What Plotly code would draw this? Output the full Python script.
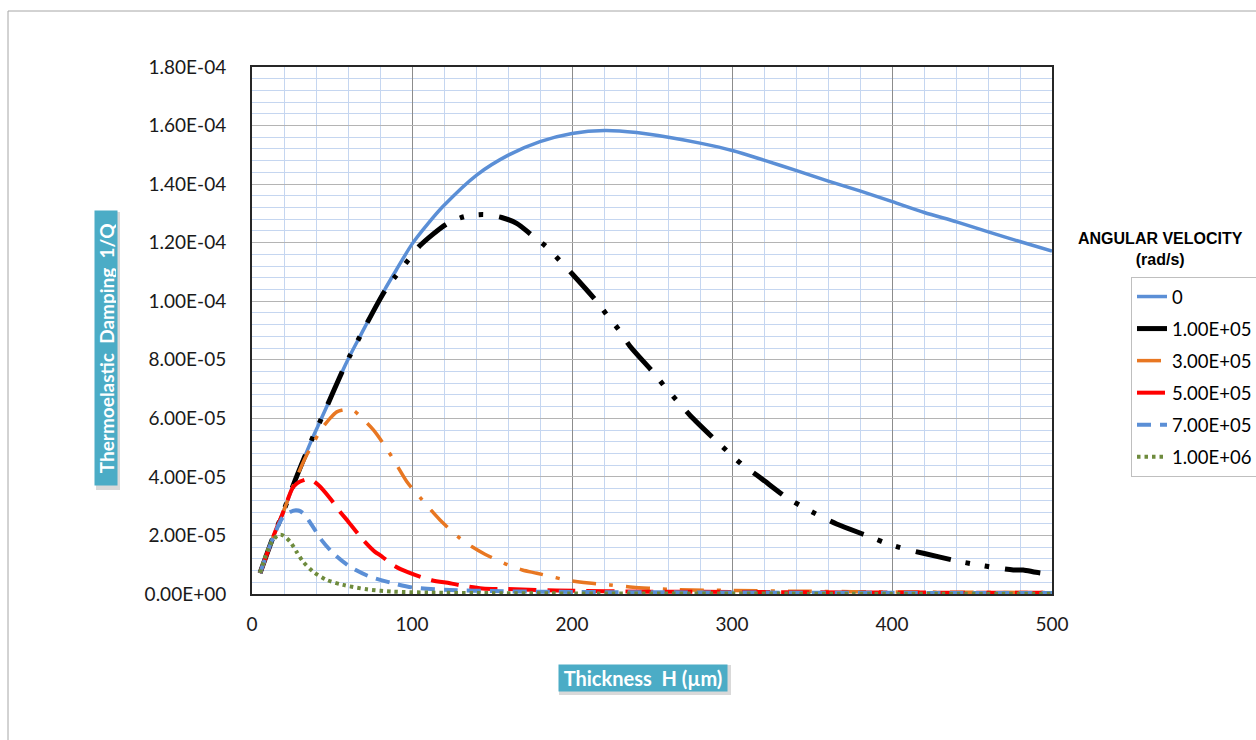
import plotly.graph_objects as go

# Thickness H (µm) and thermoelastic damping 1/Q for each angular velocity (rad/s)
h_w0 = [5, 13.3, 19.6, 25.8, 33, 38, 43, 48.75, 56, 61, 67.5, 83, 90, 100, 110, 119.6,
        140.4, 160.2, 180, 200, 220.6, 240.4, 260.2, 280, 300.8, 320.4, 340.4, 360.2,
        380.4, 400.2, 420.2, 440.4, 460.2, 480.4, 500]
q_w0 = [7.1e-6, 1.96e-5, 2.81e-5, 3.72e-5, 4.70e-5, 5.35e-5, 5.95e-5, 6.65e-5, 7.55e-5,
        8.12e-5, 8.80e-5, 1.04e-4, 1.105e-4, 1.195e-4, 1.265e-4, 1.325e-4, 1.431e-4,
        1.499e-4, 1.545e-4, 1.573e-4, 1.583e-4, 1.576e-4, 1.560e-4, 1.540e-4, 1.514e-4,
        1.481e-4, 1.446e-4, 1.410e-4, 1.376e-4, 1.340e-4, 1.303e-4, 1.271e-4, 1.237e-4,
        1.203e-4, 1.171e-4]

h_w1 = [5, 13.3, 19.6, 25.8, 33, 38, 43, 48.75, 56, 61, 67.5, 83, 90.4, 97.7, 105, 121.7,
        132.7, 144.6, 156, 165.4, 174.8, 184, 192.5, 200.2, 215, 222, 229.6, 236, 250.8,
        258, 266, 274, 289, 298, 307, 317.5, 334, 344, 354.8, 365.4, 386, 396.7, 408,
        419.6, 440.4, 452.3, 464.4, 475.8, 482, 490, 500]
q_w1 = [7.1e-6, 1.96e-5, 2.81e-5, 3.72e-5, 4.70e-5, 5.35e-5, 5.95e-5, 6.65e-5, 7.55e-5,
        8.12e-5, 8.80e-5, 1.035e-4, 1.09e-4, 1.141e-4, 1.19e-4, 1.264e-4, 1.289e-4,
        1.296e-4, 1.286e-4, 1.266e-4, 1.226e-4, 1.186e-4, 1.138e-4, 1.093e-4, 1.002e-4,
        9.52e-5, 9.0e-5, 8.48e-5, 7.57e-5, 7.08e-5, 6.58e-5, 6.09e-5, 5.29e-5, 4.83e-5,
        4.39e-5, 3.98e-5, 3.30e-5, 2.98e-5, 2.67e-5, 2.39e-5, 1.96e-5, 1.73e-5, 1.54e-5,
        1.39e-5, 1.13e-5, 1.01e-5, 9.0e-6, 8.2e-6, 8.2e-6, 7.4e-6, 6.7e-6]

h_w3 = [5, 13.3, 19.6, 25.8, 33, 38.3, 43, 48.75, 53, 58, 63, 68, 76, 84, 90.4, 96.7, 100,
        105, 111, 117.5, 130, 137.3, 145.6, 160.2, 169, 178, 194.6, 203.5, 212.3, 223.75,
        238, 250, 264, 300, 350, 400, 450, 500]
q_w3 = [7.1e-6, 1.96e-5, 2.81e-5, 3.70e-5, 4.62e-5, 5.15e-5, 5.60e-5, 6.00e-5, 6.22e-5,
        6.30e-5, 6.28e-5, 6.05e-5, 5.60e-5, 4.98e-5, 4.41e-5, 3.84e-5, 3.61e-5, 3.30e-5,
        2.92e-5, 2.53e-5, 1.90e-5, 1.62e-5, 1.36e-5, 9.9e-6, 8.2e-6, 7.1e-6, 5.0e-6,
        4.2e-6, 3.65e-6, 3.1e-6, 2.3e-6, 1.9e-6, 1.5e-6, 1.2e-6, 9e-7, 7e-7, 6e-7, 5e-7]

h_w5 = [5, 13.3, 19.6, 25.8, 30, 36, 41.5, 48.75, 55, 60.2, 69.6, 76.9, 80, 89.4, 97.7,
        112.3, 123.75, 130, 144, 160, 190, 250, 300, 400, 500]
q_w5 = [7.1e-6, 1.96e-5, 2.81e-5, 3.66e-5, 3.84e-5, 3.93e-5, 3.72e-5, 3.27e-5, 2.81e-5,
        2.47e-5, 1.84e-5, 1.44e-5, 1.33e-5, 9.5e-6, 7.4e-6, 4.7e-6, 3.7e-6, 3.0e-6,
        1.9e-6, 1.7e-6, 1.2e-6, 8e-7, 7e-7, 5e-7, 4e-7]

h_w7 = [5, 13.3, 19.6, 26, 29, 32, 37.3, 43.5, 50.8, 61.25, 73.75, 88.3, 100.8, 123.75,
        150, 200, 300, 400, 500]
q_w7 = [7.1e-6, 1.94e-5, 2.64e-5, 2.85e-5, 2.85e-5, 2.76e-5, 2.36e-5, 1.84e-5, 1.39e-5,
        9.3e-6, 5.9e-6, 3.65e-6, 2.2e-6, 1.4e-6, 1.0e-6, 7e-7, 5e-7, 4e-7, 3e-7]

h_w10 = [5, 11.25, 16, 19, 23.75, 27.9, 32, 38.3, 46.7, 57, 71.7, 88.3, 110, 150, 200,
         300, 400, 500]
q_w10 = [7.2e-6, 1.67e-5, 2.00e-5, 2.01e-5, 1.79e-5, 1.44e-5, 1.10e-5, 7.6e-6, 4.8e-6,
         3.1e-6, 1.6e-6, 8e-7, 5e-7, 3e-7, 2e-7, 1.5e-7, 1e-7, 1e-7]

series_names = ["0", "1.00E+05", "3.00E+05", "5.00E+05", "7.00E+05", "1.00E+06"]

y_tick_vals = [0, 2e-5, 4e-5, 6e-5, 8e-5, 1e-4, 1.2e-4, 1.4e-4, 1.6e-4, 1.8e-4]
y_tick_text = ["0.00E+00", "2.00E-05", "4.00E-05", "6.00E-05", "8.00E-05", "1.00E-04",
               "1.20E-04", "1.40E-04", "1.60E-04", "1.80E-04"]
x_tick_vals = [0, 100, 200, 300, 400, 500]

styles = [
    dict(color="#5B8FD6", width=3.5, dash="solid"),
    dict(color="#000000", width=5, dash="36px,15px,4.5px,15px,4.5px,16px"),
    dict(color="#E87722", width=3.5, dash="24px,13px,4px,13px"),
    dict(color="#FF0000", width=4, dash="28px,11px"),
    dict(color="#5B8FD6", width=4, dash="14px,9px"),
    dict(color="#6E8B3D", width=4, dash="3.5px,4px"),
]
xs = [h_w0, h_w1, h_w3, h_w5, h_w7, h_w10]
ys = [q_w0, q_w1, q_w3, q_w5, q_w7, q_w10]

fig = go.Figure()
for i, (name, x, y, st) in enumerate(zip(series_names, xs, ys, styles)):
    fig.add_trace(go.Scatter(
        x=x, y=y, name=name, mode="lines", legendgroup=f"g{i}",
        line=dict(color=st["color"], width=st["width"], dash=st["dash"],
                  shape="spline", smoothing=0.8),
    ))

# geometry of the plotting area in pixels
L, R, T, B = 252, 1052, 67, 594
W, H = 1256, 740


def px_x(p):
    return (p - L) / (R - L)


def px_y(p):
    return (B - p) / (B - T)


tick_font = dict(family="Lato, Open Sans, sans-serif", size=19, color="#1a1a1a")

fig.update_layout(
    width=W, height=H,
    margin=dict(l=L, r=W - R, t=T, b=H - B, autoexpand=False),
    paper_bgcolor="white", plot_bgcolor="white",
    showlegend=True,
    legend=dict(
        x=px_x(1131), y=px_y(277), xanchor="left", yanchor="top",
        bordercolor="#BFBFBF", borderwidth=1, bgcolor="white",
        font=dict(family="Lato, Open Sans, sans-serif", size=18.5, color="#000000"),
        tracegroupgap=5,
    ),
    xaxis=dict(
        range=[0, 500], tickvals=x_tick_vals, ticks="", tickfont=tick_font,
        showgrid=True, gridcolor="#8C8C8C", gridwidth=1,
        minor=dict(dtick=20, showgrid=True, gridcolor="#C5D6F0", gridwidth=1),
        showline=True, linecolor="#262626", linewidth=2, mirror=True,
        zeroline=False, ticklabelstandoff=12,
    ),
    yaxis=dict(
        range=[0, 1.8e-4], tickvals=y_tick_vals, ticktext=y_tick_text, ticks="",
        tickfont=tick_font,
        showgrid=True, gridcolor="#B4B4B4", gridwidth=1,
        minor=dict(dtick=4e-6, showgrid=True, gridcolor="#C5D6F0", gridwidth=1),
        showline=True, linecolor="#262626", linewidth=2, mirror=True,
        zeroline=False, ticklabelstandoff=20,
    ),
)

shapes = [
    # outer frame of the chart area
    dict(type="rect", xref="paper", yref="paper",
         x0=px_x(8), x1=px_x(1300), y0=px_y(11), y1=px_y(800),
         line=dict(color="#A6A6A6", width=1), fillcolor="rgba(0,0,0,0)", layer="below"),
    # soft shadows behind the title boxes
    dict(type="rect", xref="paper", yref="paper",
         x0=px_x(96), x1=px_x(120), y0=px_y(212), y1=px_y(490),
         line=dict(width=0), fillcolor="#D9D9D9", layer="below"),
    dict(type="rect", xref="paper", yref="paper",
         x0=px_x(559), x1=px_x(731), y0=px_y(665), y1=px_y(695),
         line=dict(width=0), fillcolor="#D9D9D9", layer="below"),
]
fig.update_layout(shapes=shapes)

fig.add_annotation(
    xref="paper", yref="paper", x=px_x(105.5), y=px_y(348.5),
    text="<b>Thermoelastic\u00a0 Damping\u00a0 1/Q</b>", textangle=-90,
    showarrow=False, bgcolor="#4BACC6", width=272, height=20,
    font=dict(family="Lato, Open Sans, sans-serif", size=19, color="white"),
    xanchor="center", yanchor="middle",
)
fig.add_annotation(
    xref="paper", yref="paper", x=px_x(642.5), y=px_y(678),
    text="<b>Thickness\u00a0 H (µm)</b>",
    showarrow=False, bgcolor="#4BACC6", width=166, height=24,
    font=dict(family="Lato, Open Sans, sans-serif", size=20, color="white"),
    xanchor="center", yanchor="middle",
)
fig.add_annotation(
    xref="paper", yref="paper", x=px_x(1160), y=px_y(249),
    text="<b>ANGULAR VELOCITY</b><br><b>(rad/s)</b>",
    showarrow=False, font=dict(family="Liberation Sans, Arial, sans-serif", size=16, color="#000000"),
    xanchor="center", yanchor="middle", align="center",
)

fig.write_html("out.html")
